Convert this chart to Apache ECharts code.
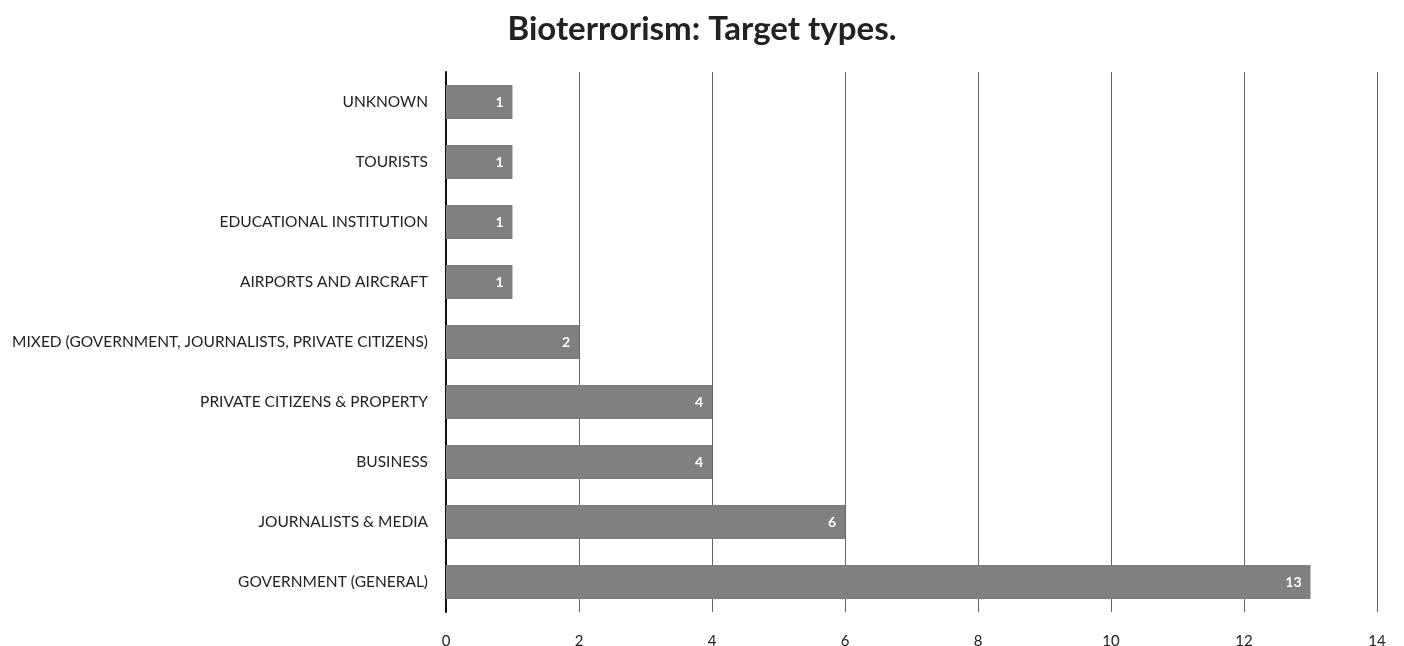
<!DOCTYPE html>
<html>
<head>
<meta charset="utf-8">
<script src="https://cdn.jsdelivr.net/npm/echarts@6/dist/echarts.min.js"></script>
<style>
  html, body { margin: 0; padding: 0; background: #fff; }
  #main { width: 1404px; height: 646px; }
</style>
</head>
<body>
<div id="main"></div>
<script>
var categories = [
    'UNKNOWN',
    'TOURISTS',
    'EDUCATIONAL INSTITUTION',
    'AIRPORTS AND AIRCRAFT',
    'MIXED (GOVERNMENT, JOURNALISTS, PRIVATE CITIZENS)',
    'PRIVATE CITIZENS & PROPERTY',
    'BUSINESS',
    'JOURNALISTS & MEDIA',
    'GOVERNMENT (GENERAL)'
];
var counts = [1, 1, 1, 1, 2, 4, 4, 6, 13];

var mychart = echarts.init(document.getElementById('main'));

var option = {
    animation: false,
    title: {
        text: 'Bioterrorism: Target types.',
        left: 'center',
        top: 8,
        textStyle: {
            fontFamily: 'Lato',
            fontWeight: 'bold',
            fontSize: 33,
            color: '#222'
        }
    },
    grid: {
        left: 446,
        right: 27,
        top: 72,
        height: 540,
        outerBoundsMode: 'none'
    },
    xAxis: {
        type: 'value',
        min: 0,
        max: 14,
        interval: 2,
        axisLine: { show: false },
        axisTick: { show: false },
        axisLabel: {
            color: '#222',
            fontFamily: 'Lato',
            fontSize: 15,
            margin: 22
        },
        splitLine: {
            show: true,
            lineStyle: { color: '#666', width: 1 }
        }
    },
    yAxis: {
        type: 'category',
        inverse: true,
        data: categories,
        axisLine: {
            show: true,
            lineStyle: { color: '#111', width: 2 }
        },
        axisTick: { show: false },
        axisLabel: {
            color: '#222',
            fontFamily: 'Lato',
            fontSize: 15.5,
            margin: 18
        }
    },
    series: [{
        type: 'bar',
        data: counts,
        barWidth: 34,
        itemStyle: { color: '#808080' },
        label: {
            show: true,
            position: 'insideRight',
            color: '#fff',
            fontFamily: 'Lato',
            fontWeight: 'bold',
            fontSize: 14,
            offset: [-4, 0]
        }
    }]
};
mychart.setOption(option);
</script>
</body>
</html>
